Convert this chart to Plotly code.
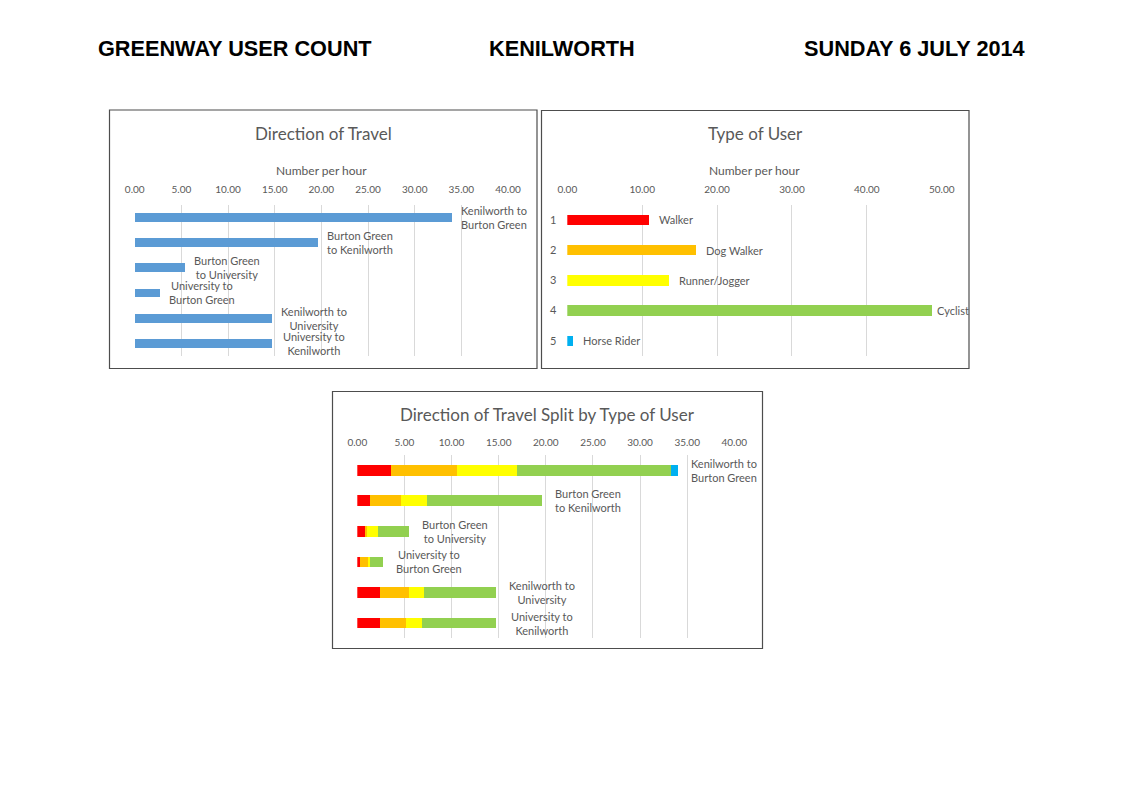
import plotly.graph_objects as go

W, H = 1123, 794

# direction of travel, number per hour
directions = ["Kenilworth to Burton Green", "Burton Green to Kenilworth",
              "Burton Green to University", "University to Burton Green",
              "Kenilworth to University", "University to Kenilworth"]
direction_labels = ["Kenilworth to<br>Burton Green", "Burton Green<br>to Kenilworth",
                    "Burton Green<br>to University", "University to<br>Burton Green",
                    "Kenilworth to<br>University", "University to<br>Kenilworth"]
direction_rates = [34.0, 19.6, 5.4, 2.7, 14.7, 14.7]

# type of user, number per hour
user_codes = ["1", "2", "3", "4", "5"]
user_types = ["Walker", "Dog Walker", "Runner/Jogger", "Cyclist", "Horse Rider"]
user_rates = [10.86, 17.14, 13.58, 48.7, 0.8]
user_colours = ["#FF0000", "#FFC000", "#FFFF00", "#92D050", "#00B0F0"]

# split of each direction by type of user
split_walker = [3.57, 1.34, 0.81, 0.25, 2.44, 2.44]
split_dog = [7.04, 3.29, 0.25, 0.88, 3.04, 2.72]
split_runner = [6.30, 2.73, 1.17, 0.25, 1.63, 1.67]
split_cyclist = [16.34, 12.27, 3.25, 1.38, 7.60, 7.88]
split_horse = [0.82, 0.0, 0.0, 0.0, 0.0, 0.0]

GREY = "#595959"
GRID = "#D9D9D9"
FONT = "Lato"


def px(x):
    return x / W


def py(y):
    return 1 - y / H


fig = go.Figure()

# chart 1 - direction of travel
fig.add_trace(go.Bar(x=direction_rates, y=directions, orientation="h", width=0.35,
                     marker=dict(color="#5B9BD5", line_width=0), xaxis="x", yaxis="y"))

# chart 2 - type of user
fig.add_trace(go.Bar(x=user_rates, y=user_codes, orientation="h", width=0.35,
                     marker=dict(color=user_colours, line_width=0), xaxis="x2", yaxis="y2",
                     hovertext=user_types))

# chart 3 - split, stacked
splits = [split_walker, split_dog, split_runner, split_cyclist, split_horse]
for name, vals, col in zip(user_types, splits, user_colours):
    fig.add_trace(go.Bar(x=vals, y=directions, orientation="h", width=0.35, name=name,
                         marker=dict(color=col, line_width=0), xaxis="x3", yaxis="y3"))

xcommon = dict(side="top", showgrid=True, gridcolor=GRID, gridwidth=1, zeroline=False,
               showline=False, ticks="", tickformat=".2f",
               tickfont=dict(family=FONT, size=10, color=GREY), fixedrange=True)
ycommon = dict(type="category", showgrid=False, zeroline=False,
               showline=False, ticks="", fixedrange=True)

annotations = []


def note(text, x, y, size, colour=GREY, anchor="center", family=FONT, bold=False):
    if bold:
        text = f"<b>{text}</b>"
    annotations.append(dict(text=text, x=px(x), y=py(y), xref="paper", yref="paper",
                            xanchor=anchor, yanchor="middle", showarrow=False,
                            font=dict(family=family, size=size, color=colour)))


# page header
HEAD = "Liberation Sans"
note("GREENWAY USER COUNT", 96, 48, 21.7, "#000000", "left", HEAD, True)
note("KENILWORTH", 562, 48, 21.7, "#000000", "center", HEAD, True)
note("SUNDAY 6 JULY 2014", 1027, 48, 21.7, "#000000", "right", HEAD, True)

# chart titles and axis titles
note("Direction of Travel", 323, 133, 17)
note("Type of User", 755, 133, 17)
note("Direction of Travel Split by Type of User", 547.5, 414, 17)
note("Number per hour", 321.3, 170.5, 12)
note("Number per hour", 754.5, 170.5, 12)

# data labels
for i, lab in enumerate(direction_labels):
    annotations.append(dict(text=lab, x=direction_rates[i], y=i, xref="x", yref="y",
                            xanchor="center", xshift=42, showarrow=False, align="center",
                            font=dict(family=FONT, size=11, color=GREY)))

user_shift = [8, 8, 8, 3, 8]
for i, lab in enumerate(user_types):
    annotations.append(dict(text=lab, x=user_rates[i], y=i, xref="x2", yref="y2",
                            xanchor="left", xshift=user_shift[i], showarrow=False,
                            font=dict(family=FONT, size=11, color=GREY)))

for i, lab in enumerate(direction_labels):
    total = sum(s[i] for s in splits)
    annotations.append(dict(text=lab, x=total, y=i, xref="x3", yref="y3", xanchor="center",
                            xshift=46, showarrow=False, align="center",
                            font=dict(family=FONT, size=11, color=GREY)))

# chart frames
frames = [(109.5, 110, 537, 368.5), (541.5, 110.5, 969, 368.5), (332.5, 391.5, 762.5, 648.5)]
shapes = [dict(type="rect", xref="paper", yref="paper", x0=px(a), y0=py(d), x1=px(c), y1=py(b),
               line=dict(color="#4D4D4D", width=1.2), layer="below") for a, b, c, d in frames]

fig.update_layout(
    template="none", width=W, height=H, margin=dict(l=0, r=0, t=0, b=0),
    paper_bgcolor="white", plot_bgcolor="rgba(0,0,0,0)", showlegend=False,
    barmode="stack", font=dict(family=FONT, color=GREY),
    xaxis=dict(xcommon, domain=[px(134.7), px(508)], range=[0, 40], dtick=5, anchor="y",
               ticklabelstandoff=9),
    yaxis=dict(ycommon, domain=[py(356), py(204.7)], range=[5.5, -0.5], anchor="x",
               showticklabels=False),
    xaxis2=dict(xcommon, domain=[px(567.3), px(941.7)], range=[0, 50], dtick=10, anchor="y2",
                ticklabelstandoff=9),
    yaxis2=dict(ycommon, domain=[py(356), py(204.7)], range=[4.5, -0.5], anchor="x2",
                showticklabels=True, ticklabelstandoff=10,
                tickfont=dict(family=FONT, size=11, color=GREY)),
    xaxis3=dict(xcommon, domain=[px(357.3), px(734.3)], range=[0, 40], dtick=5, anchor="y3",
                ticklabelstandoff=6),
    yaxis3=dict(ycommon, domain=[py(638.3), py(455)], range=[5.5, -0.5], anchor="x3",
                showticklabels=False),
    annotations=annotations, shapes=shapes,
)

fig.write_html("out.html", config=dict(displayModeBar=False),
               post_script="document.body.style.margin='0';")
